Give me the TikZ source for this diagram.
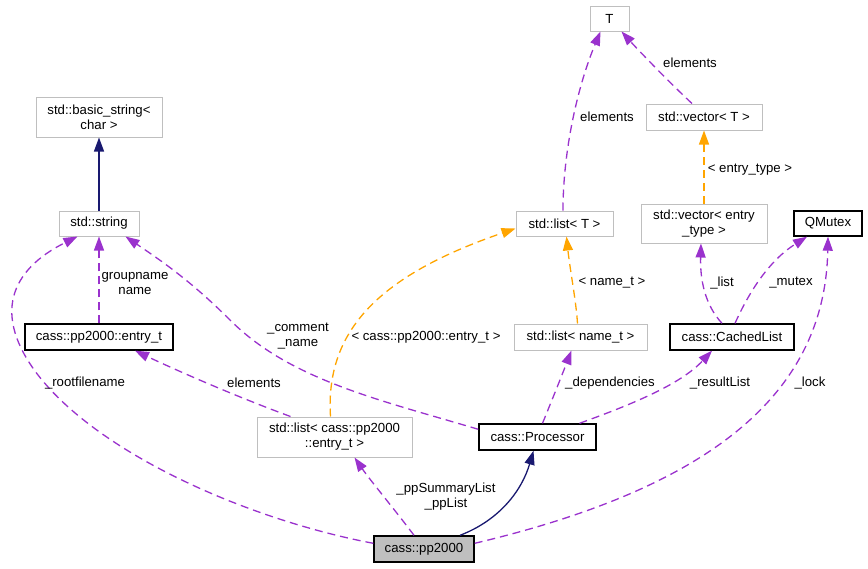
\documentclass[tikz,border=0pt]{standalone}
\usepackage{fontspec}
\setmainfont{Liberation Sans}
\usetikzlibrary{arrows.meta}
\definecolor{purp}{HTML}{9A32CD}
\definecolor{orng}{HTML}{FFA500}
\definecolor{navyc}{HTML}{191970}
\definecolor{grayb}{HTML}{BFBFBF}
\begin{document}
\begin{tikzpicture}[x=1pt,y=-1pt,
 every node/.style={font=\fontsize{13.2}{15}\selectfont, inner sep=0pt, align=center},
 gbox/.style={draw=grayb, line width=1pt, fill=white},
 kbox/.style={draw=black, line width=1.4pt, fill=white},
 usesedge/.style={draw=purp, line width=1.3pt, dash pattern=on 8pt off 5pt, -{Triangle[length=14pt,width=10pt]}, purp},
 tmpledge/.style={draw=orng, line width=1.3pt, dash pattern=on 8pt off 5pt, -{Triangle[length=14pt,width=10pt]}, orng},
 inhedge/.style={draw=navyc, line width=1.3pt, -{Triangle[length=14pt,width=10pt]}, navyc},
 lbl/.style={text=black}]
\useasboundingbox (0,0) rectangle (868,568);
% nodes
\node[gbox, minimum width=39pt, minimum height=25pt] (T) at (609.5,18.5) {T};
\node[gbox, minimum width=116pt, minimum height=26pt] (vecT) at (704,117) {std::vector< T >};
\node[gbox, minimum width=126pt, minimum height=39pt] (vecE) at (704,223.5) {std::vector< entry\\\_type >};
\node[kbox, minimum width=68pt, minimum height=25pt] (qm) at (828,223.5) {QMutex};
\node[gbox, minimum width=97pt, minimum height=25pt] (listT) at (564.5,223.5) {std::list< T >};
\node[gbox, minimum width=126pt, minimum height=40pt] (bstr) at (99,117) {std::basic\_string<\\char >};
\node[gbox, minimum width=80pt, minimum height=25pt] (str) at (99,223.5) {std::string};
\node[kbox, minimum width=148pt, minimum height=26pt] (entry) at (99,337) {cass::pp2000::entry\_t};
\node[gbox, minimum width=155pt, minimum height=40pt] (listE) at (334.5,437) {std::list< cass::pp2000\\::entry\_t >};
\node[kbox, fill=grayb, minimum width=100pt, minimum height=26pt] (pp) at (424,549) {cass::pp2000};
\node[gbox, minimum width=133pt, minimum height=26pt] (listN) at (580.5,337) {std::list< name\_t >};
\node[kbox, minimum width=124pt, minimum height=26pt] (cached) at (732,337) {cass::CachedList};
\node[kbox, minimum width=117pt, minimum height=26pt] (proc) at (537.5,437) {cass::Processor};
% edges
\draw[inhedge] (str.north) -- (bstr.south);
\draw[usesedge] (entry.north) -- (str.south);
\draw[usesedge] ([yshift=-8pt]pp.north west) .. controls (250,520) and (100,455) .. (38,375) .. controls (-8,315) and (10,270) .. ([xshift=19pt]str.south west);
\draw[usesedge] ([yshift=-6pt]proc.north west) .. controls (380,400) and (290,380) .. (230,320) .. controls (190,280) and (160,260) .. ([xshift=-14pt]str.south east);
\draw[usesedge] ([xshift=-44pt]listE.north) .. controls (240,398) and (180,372) .. ([xshift=36pt]entry.south);
\draw[tmpledge] ([xshift=-4pt]listE.north) .. controls (325,330) and (380,275) .. ([yshift=-5pt]listT.west);
\draw[usesedge] ([xshift=-10pt]pp.north) .. controls (395,510) and (370,480) .. ([xshift=20pt]listE.south);
\draw[inhedge] ([xshift=36pt]pp.north) .. controls (500,520) and (522,490) .. ([xshift=-4pt]proc.south);
\draw[usesedge] ([xshift=-1.5pt]listT.north) .. controls (563,150) and (578,85) .. ([xshift=-9pt]T.south);
\draw[usesedge] ([xshift=-12pt]vecT.north) .. controls (672,85) and (640,52) .. ([xshift=12pt]T.south);
\draw[tmpledge] (vecE.north) -- (vecT.south);
\draw[tmpledge] ([xshift=-3pt]listN.north) .. controls (576,300) and (570,270) .. ([xshift=2pt]listT.south);
\draw[usesedge] ([xshift=5pt]proc.north) .. controls (552,400) and (562,375) .. ([xshift=-9pt]listN.south);
\draw[usesedge] ([xshift=42pt]proc.north) .. controls (630,405) and (680,385) .. ([xshift=-20pt]cached.south);
\draw[usesedge] ([xshift=-10pt]cached.north) .. controls (705,305) and (700,280) .. ([xshift=-3pt]vecE.south);
\draw[usesedge] ([xshift=3pt]cached.north) .. controls (750,290) and (770,260) .. ([xshift=-21pt]qm.south);
\draw[usesedge] ([yshift=-8pt]pp.north east) .. controls (700,490) and (825,400) .. (qm.south);
% labels
\node[lbl] (l1) at (135,283.5) {groupname\\name};
\node[lbl] (l2) at (85,383) {\_rootfilename};
\node[lbl] (l3) at (298,336) {\_comment\\\_name};
\node[lbl] (l4) at (254,383) {elements};
\node[lbl] (l5) at (426,337) {< cass::pp2000::entry\_t >};
\node[lbl] (l6) at (446,497) {\_ppSummaryList\\\_ppList};
\node[lbl] (l7) at (607,117) {elements};
\node[lbl] (l8) at (690,63) {elements};
\node[lbl] (l9) at (750,170) {< entry\_type >};
\node[lbl] (l10) at (612,283) {< name\_t >};
\node[lbl] (l11) at (722,283) {\_list};
\node[lbl] (l12) at (791,283) {\_mutex};
\node[lbl] (l13) at (610,383) {\_dependencies};
\node[lbl] (l14) at (720,383) {\_resultList};
\node[lbl] (l15) at (810,383) {\_lock};
\end{tikzpicture}
\end{document}
